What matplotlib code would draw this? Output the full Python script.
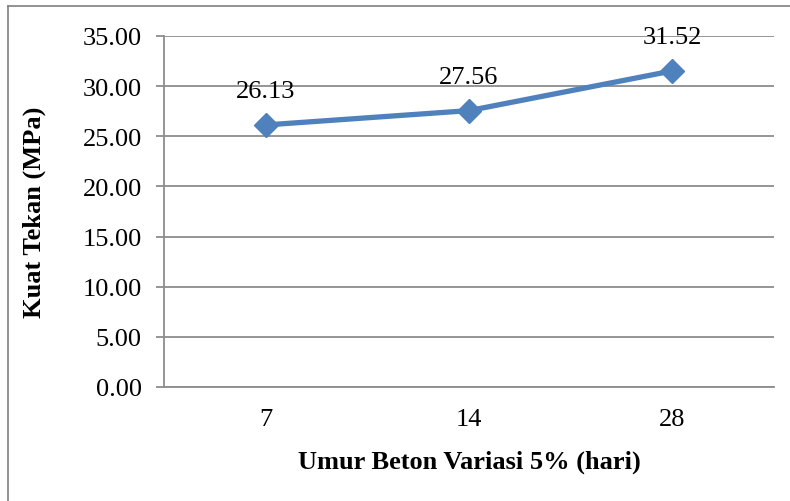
import matplotlib
matplotlib.use('Agg')
import matplotlib.pyplot as plt
from matplotlib.lines import Line2D

days = ['7', '14', '28']
strength = [26.13, 27.56, 31.52]
yticks = [0, 5, 10, 15, 20, 25, 30, 35]

plt.rcParams['font.family'] = ['Liberation Serif', 'DejaVu Serif']

fig = plt.figure(figsize=(7.9, 5.02), dpi=100)
ax = fig.add_axes([164 / 790, 1 - 388 / 502, 610 / 790, 351 / 502])

x = list(range(len(days)))
ax.plot(x, strength, color='#4F81BD', linewidth=3.8, marker='D', markersize=12,
        solid_joinstyle='round', zorder=3)
for xi, v in zip(x, strength):
    ax.annotate(f'{v:.2f}', (xi, v), xytext=(0, 20), textcoords='offset points',
                ha='center', va='baseline', fontsize=19, zorder=4)

ax.set_xlim(-0.5, len(days) - 0.5)
ax.set_ylim(0, 35)
ax.set_yticks(yticks)
ax.set_yticklabels([f'{t:.2f}' for t in yticks], fontsize=19)
ax.set_xticks(x)
ax.set_xticklabels(days, fontsize=19)
ax.yaxis.grid(True, color='#8c8c8c', linewidth=1.3)
ax.set_axisbelow(True)
for s in ['top', 'right']:
    ax.spines[s].set_visible(False)
for s in ['left', 'bottom']:
    ax.spines[s].set_color('#8c8c8c')
    ax.spines[s].set_linewidth(1.3)
ax.tick_params(axis='y', length=6, width=1.3, color='#8c8c8c', pad=10)
ax.tick_params(axis='x', length=0, pad=15)

ax.set_xlabel('Umur Beton Variasi 5% (hari)', fontsize=19, fontweight='bold', labelpad=14)
ax.set_ylabel('Kuat Tekan (MPa)', fontsize=19, fontweight='bold', labelpad=26)

# chart area border (only top and left are visible in the crop)
fig.add_artist(Line2D([8 / 790, 1.0], [1 - 7 / 502, 1 - 7 / 502], color='#7f7f7f', linewidth=1.2))
fig.add_artist(Line2D([8 / 790, 8 / 790], [0, 1 - 7 / 502], color='#7f7f7f', linewidth=1.2))

fig.savefig('out.png', dpi=100)
